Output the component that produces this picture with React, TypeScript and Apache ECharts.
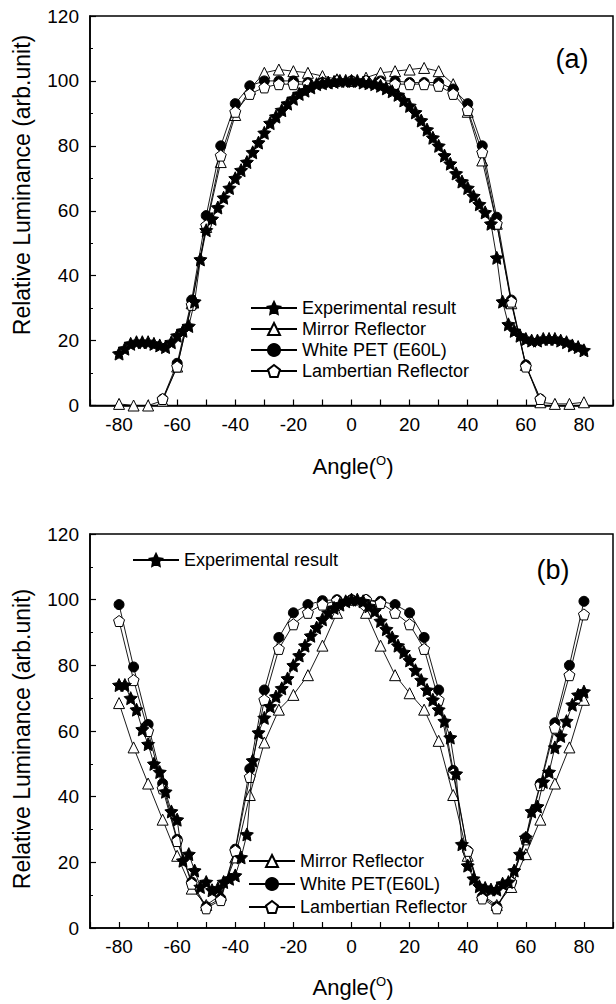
import React, { useEffect, useRef } from "react";
import * as echarts from "echarts";

const FONT = "'Liberation Sans', Arial, Helvetica, sans-serif";

// ---------- angles ----------
const ANG2 = [-80, -78, -76, -74, -72, -70, -68, -66, -64, -62, -60, -58, -56, -54, -52, -50, -48, -46, -44, -42, -40, -38, -36, -34, -32, -30, -28, -26, -24, -22, -20, -18, -16, -14, -12, -10, -8, -6, -4, -2, 0, 2, 4, 6, 8, 10, 12, 14, 16, 18, 20, 22, 24, 26, 28, 30, 32, 34, 36, 38, 40, 42, 44, 46, 48, 50, 52, 54, 56, 58, 60, 62, 64, 66, 68, 70, 72, 74, 76, 78, 80];
const ANG5 = [-80, -75, -70, -65, -60, -55, -50, -45, -40, -35, -30, -25, -20, -15, -10, -5, 0, 5, 10, 15, 20, 25, 30, 35, 40, 45, 50, 55, 60, 65, 70, 75, 80];
const ANG5_IN = [-65, -60, -55, -50, -45, -40, -35, -30, -25, -20, -15, -10, -5, 0, 5, 10, 15, 20, 25, 30, 35, 40, 45, 50, 55, 60, 65];

// ---------- chart (a) ----------
const A_EXP = [16, 17.5, 19, 19.5, 19.5, 19.5, 19, 18.5, 18, 19.5, 21.5, 23, 24.5, 32, 45, 54, 57.5, 61, 64, 67, 70, 72.5, 75, 78, 81, 84, 87, 89, 91, 93, 94.5, 96, 97, 98, 99, 99.3, 99.5, 99.7, 100, 100,
  100,
  100, 99.5, 99.3, 99, 98.5, 97.7, 96.8, 95.7, 94, 92.3, 90.3, 87.8, 85, 82.5, 80, 77, 74.5, 71.5, 69, 67, 64.5, 62, 59.5, 56, 45.5, 32, 25, 23, 21.5, 20.5, 20, 20, 20.5, 20.5, 20.5, 20, 19.5, 18.5, 18, 17];
const A_MIRROR = [0.5, 0, 0, 1.5, 12, 31.5, 55, 75, 89.5, 97.5, 102.5, 103.5, 103, 102.5, 101.5, 100.5, 100, 101, 102.5, 103, 103.5, 104, 103, 99, 90.5, 75.5, 56, 31.5, 12.5, 1, 0.5, 0.5, 1];
const A_PET = [2, 13, 32.5, 58.5, 80, 93, 98.5, 100, 100, 100, 99.5, 99.5, 100, 100, 100, 100, 100, 99.5, 99.5, 99.5, 97.5, 93, 80, 58, 32.5, 12.5, 2];
const A_LAMB = [2, 12, 31, 55.5, 77, 90.5, 96, 98, 99, 99, 99, 99.5, 100, 100, 100, 99.5, 99, 99, 99, 98.5, 96, 91, 78, 56, 32, 12, 2];

// ---------- chart (b) ----------
const B_EXP = [74, 74, 70, 66.5, 60.5, 56, 50, 47.5, 41.5, 35.5, 33, 20.5, 22.5, 17.5, 12.5, 14, 11.5, 12, 14, 15, 16, 21.5, 28.5, 51, 59.5, 64, 67.5, 70.5, 73, 76, 80, 83, 86, 89, 91.5, 94, 96, 97.5, 98.5, 99.5,
  100,
  100, 99.5, 98, 96.5, 93.5, 91, 88.5, 86, 84, 81.5, 78.5, 75.5, 72.5, 69.5, 66.5, 63, 58, 47, 25.5, 19, 15, 12.7, 12.2, 11.7, 11.7, 13.5, 14, 17.5, 22.5, 27.5, 35.5, 37, 44.5, 47.5, 55, 58.5, 63, 68, 71, 72];
const B_MIRROR = [68.5, 55, 44, 33, 22, 12, 7, 10, 21.5, 40.5, 56.5, 66.5, 71, 77, 86, 96, 100, 96, 86, 77, 71.5, 66.5, 57, 40.5, 22, 10, 7, 12.5, 22.5, 33, 44, 55, 69.5];
const B_PET = [98.5, 79.5, 62, 44, 27, 14, 6.5, 9, 24, 48.5, 72.5, 88.5, 96, 98.5, 99.7, 100, 100, 100, 99.5, 98.5, 96, 88.5, 72.5, 48, 23.5, 9.5, 6.5, 14, 27.5, 44, 62.5, 80, 99.5];
const B_LAMB = [93.5, 75.5, 60, 42.5, 26.5, 13.5, 6, 8.5, 23.5, 46, 69.5, 85, 92.5, 96, 98.5, 99.7, 100, 100, 99, 96, 92.5, 85, 69.5, 47, 23.5, 9, 6, 14, 27, 43.5, 61, 77, 95.5];

// ---------- ticks / labels ----------
const X_MIN = -90;
const X_MAX = 90;
const X_STEP = 10;
const Y_MIN = 0;
const Y_MAX = 120;
const Y_STEP = 20;

const NAME_EXP = "Experimental result";
const NAME_MIRROR = "Mirror Reflector";
const NAME_PET_A = "White PET (E60L)";
const NAME_PET_B = "White PET(E60L)";
const NAME_LAMB = "Lambertian Reflector";

const STAR = "path://M0,-10 L2.94,-4.05 L9.51,-3.09 L4.76,1.55 L5.88,8.09 L0,5 L-5.88,8.09 L-4.76,1.55 L-9.51,-3.09 L-2.94,-4.05 Z";
const PENT = "path://M0,-10 L9.51,-3.09 L5.88,8.09 L-5.88,8.09 L-9.51,-3.09 Z";

type Kind = "star" | "tri" | "circ" | "pent";

function pairs(xs: number[], ys: number[]) {
  return xs.map((x, i) => [x, ys[i]]);
}

function mk(name: string, xs: number[], ys: number[], kind: Kind, gi: number, z: number) {
  const symbol = { star: STAR, tri: "triangle", circ: "circle", pent: PENT }[kind];
  const size = { star: 13, tri: 11, circ: 10, pent: 11 }[kind];
  const fill = kind === "star" || kind === "circ" ? "#000" : "#fff";
  return {
    type: "line",
    name,
    xAxisIndex: gi,
    yAxisIndex: gi,
    data: pairs(xs, ys),
    symbol,
    symbolSize: size,
    showSymbol: true,
    showAllSymbol: true,
    z,
    silent: true,
    lineStyle: { color: "#000", width: 0.9 },
    itemStyle: { color: fill, borderColor: "#000", borderWidth: 1 },
  };
}

function xAxis(gi: number) {
  return {
    gridIndex: gi,
    type: "value",
    min: X_MIN,
    max: X_MAX,
    interval: X_STEP,
    axisLine: { show: true, onZero: false, lineStyle: { color: "#000", width: 1.6 } },
    axisTick: { show: true, inside: true, length: 6, lineStyle: { color: "#000", width: 1.2 } },
    axisLabel: {
      margin: 9,
      fontSize: 19,
      color: "#000",
      fontFamily: FONT,
      formatter: (v: number) => (v % 20 === 0 && Math.abs(v) < 90 ? String(v) : ""),
    },
    splitLine: { show: false },
  };
}

function yAxis(gi: number) {
  return {
    gridIndex: gi,
    type: "value",
    min: Y_MIN,
    max: Y_MAX,
    interval: Y_STEP,
    axisLine: { show: true, onZero: false, lineStyle: { color: "#000", width: 1.6 } },
    axisTick: { show: true, inside: true, length: 6, lineStyle: { color: "#000", width: 1.2 } },
    minorTick: { show: true, splitNumber: 2, length: 3, lineStyle: { color: "#000", width: 1 } },
    axisLabel: { margin: 11, fontSize: 19, color: "#000", fontFamily: FONT },
    splitLine: { show: false },
  };
}

function legend(names: string[], left: number, top: number, gap: number) {
  return {
    data: names,
    orient: "vertical",
    left,
    top,
    padding: 0,
    itemGap: gap,
    itemWidth: 46,
    itemHeight: 15,
    selectedMode: false,
    textStyle: { fontSize: 18, color: "#000", fontFamily: FONT, lineHeight: 18 },
  };
}

function axisTitle(x: number, y: number) {
  return {
    type: "text",
    x,
    y,
    style: {
      text: "Angle({sup|O})",
      rich: {
        sup: { fontSize: 13, fontFamily: FONT, fill: "#000", verticalAlign: "top", lineHeight: 24 },
      },
      fontSize: 22,
      lineHeight: 24,
      fontFamily: FONT,
      fill: "#000",
      align: "center",
      verticalAlign: "middle",
    },
  };
}

function yTitle(x: number, y: number) {
  return {
    type: "text",
    x,
    y,
    rotation: Math.PI / 2,
    style: {
      text: "Relative Luminance (arb.unit)",
      fontSize: 23,
      fontFamily: FONT,
      fill: "#000",
      align: "center",
      verticalAlign: "middle",
    },
  };
}

function panelLabel(text: string, x: number, y: number) {
  return {
    type: "text",
    x,
    y,
    style: { text, fontSize: 27, fontFamily: FONT, fill: "#000", align: "center", verticalAlign: "middle" },
  };
}

export default function App() {
  const ref = useRef<HTMLDivElement>(null);

  useEffect(() => {
    if (!ref.current) return;
    const chart = echarts.init(ref.current, undefined, { renderer: "svg" });
    const option = {
      animation: false,
      backgroundColor: "#fff",
      grid: [
        { left: 90, top: 16, width: 527, height: 389.5, show: true, borderColor: "#000", borderWidth: 1.5, containLabel: false },
        { left: 90, top: 534, width: 527, height: 394, show: true, borderColor: "#000", borderWidth: 1.5, containLabel: false },
      ],
      xAxis: [xAxis(0), xAxis(1)],
      yAxis: [yAxis(0), yAxis(1)],
      legend: [
        legend([NAME_EXP, NAME_MIRROR, NAME_PET_A, NAME_LAMB], 250, 299, 3),
        legend([NAME_EXP], 132, 551, 3),
        legend([NAME_MIRROR, NAME_PET_B, NAME_LAMB], 248, 852, 5),
      ],
      series: [
        mk(NAME_MIRROR, ANG5, A_MIRROR, "tri", 0, 2),
        mk(NAME_PET_A, ANG5_IN, A_PET, "circ", 0, 3),
        mk(NAME_LAMB, ANG5_IN, A_LAMB, "pent", 0, 4),
        mk(NAME_EXP, ANG2, A_EXP, "star", 0, 5),
        mk(NAME_MIRROR, ANG5, B_MIRROR, "tri", 1, 2),
        mk(NAME_PET_B, ANG5, B_PET, "circ", 1, 3),
        mk(NAME_LAMB, ANG5, B_LAMB, "pent", 1, 4),
        mk(NAME_EXP, ANG2, B_EXP, "star", 1, 5),
      ],
      graphic: [
        yTitle(22, 185),
        yTitle(22, 739),
        axisTitle(353, 466),
        axisTitle(353, 987),
        panelLabel("(a)", 572, 59),
        panelLabel("(b)", 553, 570),
      ],
    };
    chart.setOption(option as any);
    return () => chart.dispose();
  }, []);

  return (
    <div
      ref={ref}
      style={{ position: "fixed", left: 0, top: 0, width: 616, height: 1004, background: "#fff" }}
    />
  );
}
